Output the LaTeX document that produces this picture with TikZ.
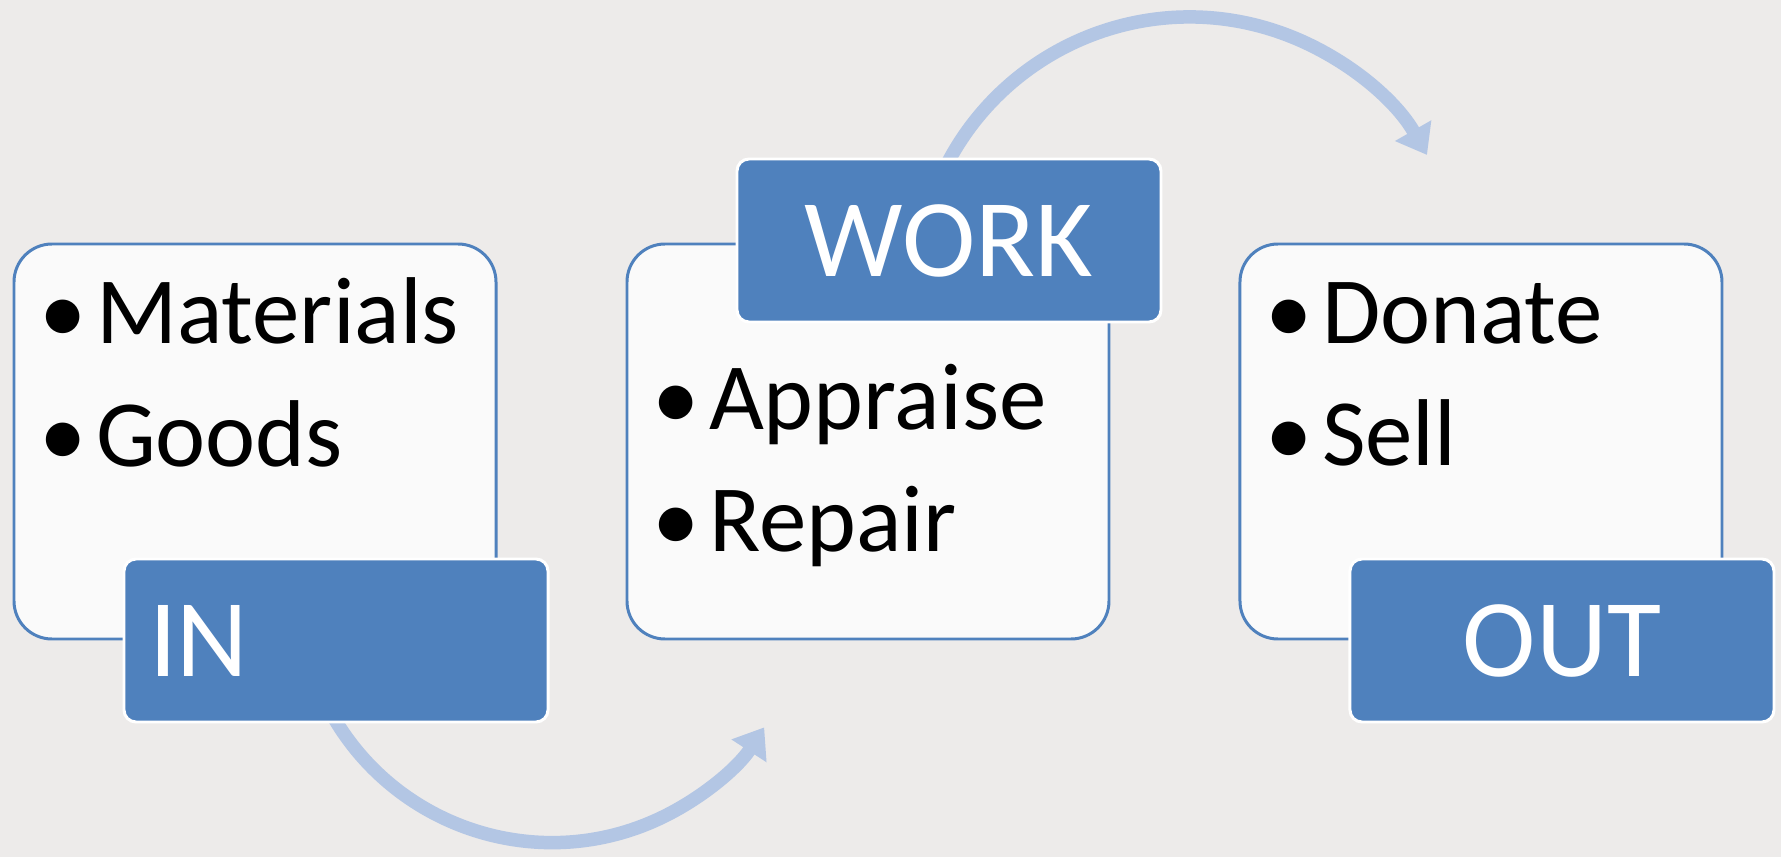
\documentclass[tikz,border=0pt]{standalone}
\usepackage{fontspec}
\setmainfont{Carlito}
\usepackage{xcolor}
\usepackage{tikz}
\usetikzlibrary{shapes,positioning,arrows.meta}
\tikzset{>=Latex}
\definecolor{paper}{RGB}{237,235,234}
\definecolor{boxblue}{RGB}{79,129,189}
\definecolor{arrowblue}{RGB}{179,198,228}
\newcommand{\itembul}{\makebox[0.6em][l]{\textbullet}}

\begin{document}
\begin{tikzpicture}[
listbox/.style={rectangle, rounded corners=3.8mm, draw=boxblue, line width=0.85pt, fill=white!98!black, minimum width=48.2mm, minimum height=39.5mm},
tagbox/.style={rectangle, rounded corners=1.2mm, draw=white, line width=0.85pt, fill=boxblue, text=white, text width=37.4mm, inner xsep=2.5mm, minimum height=16.3mm, align=center, font=\fontsize{31.5}{36}\selectfont},
itemtext/.style={anchor=base west, inner sep=0pt, font=\fontsize{27}{32}\selectfont},
bendarrow/.style={draw=arrowblue, line width=1.35mm, -{Triangle[length=2.8mm,width=4mm]}},
]
\fill[paper] (0,0) rectangle (17.81,8.57);
\useasboundingbox (0,0) rectangle (17.81,8.57);
%Arrows
\coordinate (InArc) at (3.227,1.605);
\coordinate (WorkArc) at (9.326,6.601);
\draw[bendarrow] (InArc) arc[start angle=205, end angle=327, radius=2.53];
\draw[bendarrow] (WorkArc) arc[start angle=160, end angle=29.7, radius=2.734];
%Nodes
\node[listbox](InList) at (2.55,4.155){};
\node[listbox](WorkList)[right=12.8mm of InList]{};
\node[listbox](OutList)[right=12.8mm of WorkList]{};
\node[itemtext](Materials) at ([xshift=2.6mm, yshift=-10.1mm]InList.north west){\itembul Materials};
\node[itemtext](Goods) at ([xshift=2.6mm, yshift=-22.4mm]InList.north west){\itembul Goods};
\node[itemtext](Appraise) at ([xshift=2.6mm, yshift=-18.7mm]WorkList.north west){\itembul Appraise};
\node[itemtext](Repair) at ([xshift=2.6mm, yshift=-30.9mm]WorkList.north west){\itembul Repair};
\node[itemtext](Donate) at ([xshift=2.6mm, yshift=-10.1mm]OutList.north west){\itembul Donate};
\node[itemtext](Sell) at ([xshift=2.6mm, yshift=-22.3mm]OutList.north west){\itembul Sell};
\node[tagbox, align=left, anchor=south west](In) at ([xshift=11mm, yshift=-8.3mm]InList.south west){IN};
\node[tagbox, anchor=north west](Work) at ([xshift=11mm, yshift=8.5mm]WorkList.north west){WORK};
\node[tagbox, anchor=south west](Out) at ([xshift=11mm, yshift=-8.3mm]OutList.south west){OUT};
\end{tikzpicture}
\end{document}
